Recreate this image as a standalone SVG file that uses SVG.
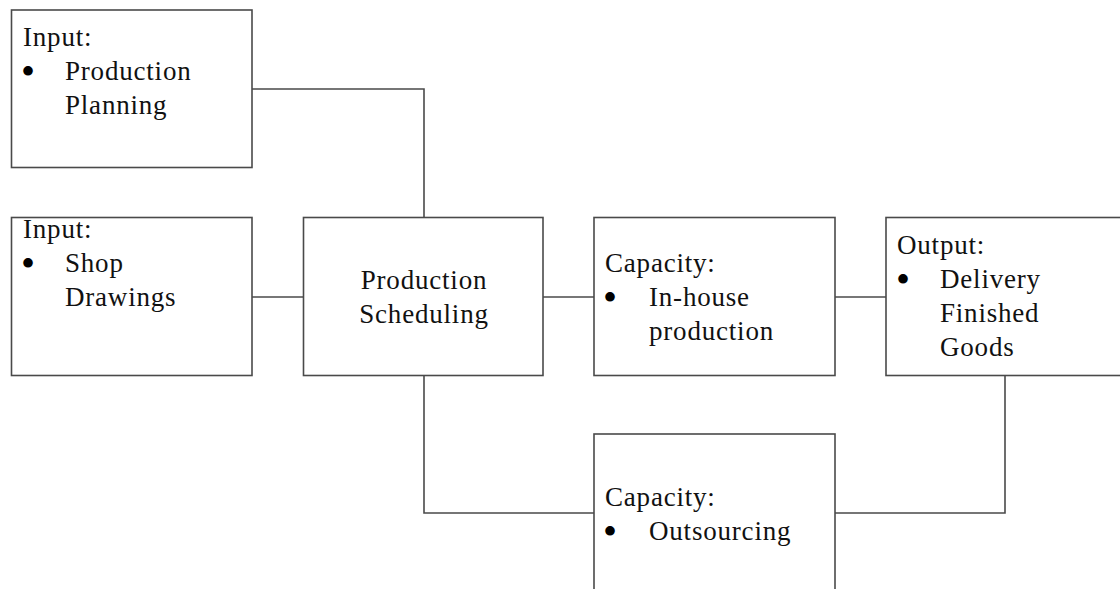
<svg xmlns="http://www.w3.org/2000/svg" width="1120" height="589" viewBox="0 0 1120 589">
<style>
.box{fill:#fff;stroke:#4a4a4a;stroke-width:1.6}
.con{fill:none;stroke:#4a4a4a;stroke-width:1.6}
text{font-family:"Liberation Serif","Times New Roman",serif;font-size:27px;letter-spacing:0.8px;fill:#111}
text.b{font-size:40px;letter-spacing:0;fill:#000}
.c{text-anchor:middle}
</style>
<rect width="1120" height="589" fill="#fff"/>
<g id="connectors">
<polyline class="con" points="252,89 424,89 424,217"/>
<line class="con" x1="252" y1="297" x2="304" y2="297"/>
<line class="con" x1="543" y1="297" x2="594" y2="297"/>
<line class="con" x1="835" y1="297" x2="886" y2="297"/>
<polyline class="con" points="424,375 424,513 594,513"/>
<polyline class="con" points="835,513 1005,513 1005,375"/>
</g>
<g id="input-planning">
<rect class="box" x="11.5" y="10" width="240.5" height="157.5"/>
<text x="23" y="46">Input:</text>
<text class="b" x="21" y="85">•</text>
<text x="65" y="80">Production</text>
<text x="65" y="114">Planning</text>
</g>
<g id="input-drawings">
<rect class="box" x="11.5" y="217.5" width="240.5" height="158"/>
<text x="23" y="238">Input:</text>
<text class="b" x="21" y="277">•</text>
<text x="65" y="272">Shop</text>
<text x="65" y="306">Drawings</text>
</g>
<g id="scheduling">
<rect class="box" x="303.5" y="217.5" width="239.5" height="158"/>
<text class="c" x="424" y="289">Production</text>
<text class="c" x="424" y="323">Scheduling</text>
</g>
<g id="inhouse">
<rect class="box" x="594" y="217.5" width="241" height="158"/>
<text x="605" y="272">Capacity:</text>
<text class="b" x="603" y="311">•</text>
<text x="649" y="306">In-house</text>
<text x="649" y="340">production</text>
</g>
<g id="output">
<rect class="box" x="886" y="217.5" width="245" height="158"/>
<text x="897" y="254">Output:</text>
<text class="b" x="896" y="293">•</text>
<text x="940" y="288">Delivery</text>
<text x="940" y="322">Finished</text>
<text x="940" y="356">Goods</text>
</g>
<g id="outsourcing">
<rect class="box" x="594" y="434" width="241" height="170"/>
<text x="605" y="506">Capacity:</text>
<text class="b" x="603" y="545">•</text>
<text x="649" y="540">Outsourcing</text>
</g>
</svg>
